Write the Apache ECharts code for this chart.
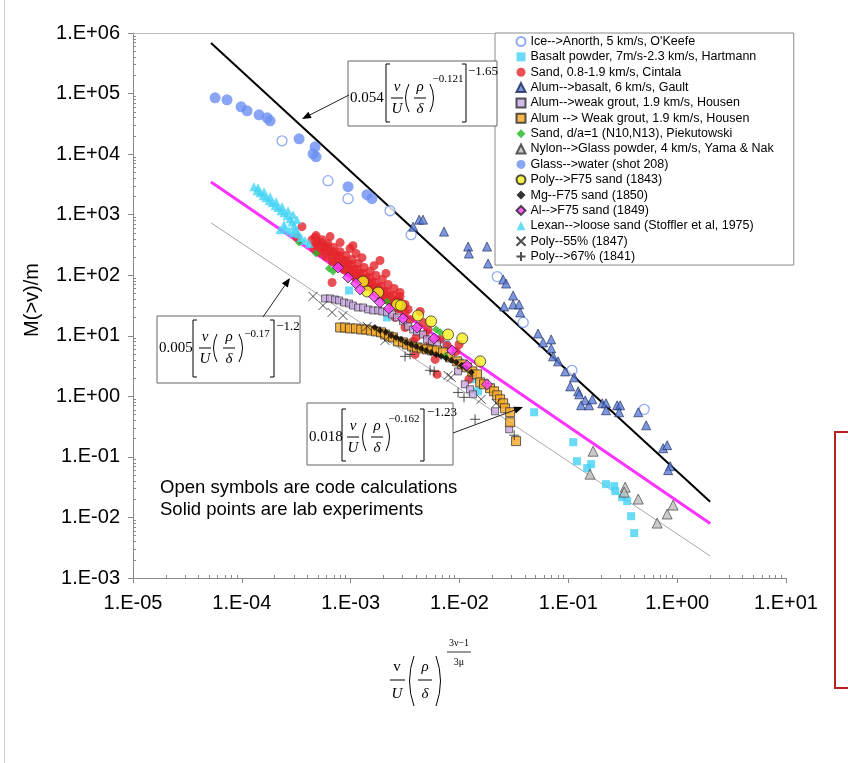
<!DOCTYPE html>
<html><head><meta charset="utf-8">
<script src="https://cdn.jsdelivr.net/npm/echarts@6/dist/echarts.min.js"></script>
<style>html,body{margin:0;padding:0;background:#fff}#c{width:848px;height:763px}</style>
</head><body><div id="c"></div>
<script>
// ---------- tick labels ----------
const xTickLabels = ['1.E-05','1.E-04','1.E-03','1.E-02','1.E-01','1.E+00','1.E+01'];
const yTickLabels = ['1.E-03','1.E-02','1.E-01','1.E+00','1.E+01','1.E+02','1.E+03','1.E+04','1.E+05','1.E+06'];

// ---------- series names ----------
const seriesNames = [
  "Ice-->Anorth, 5 km/s, O'Keefe",
  "Basalt powder, 7m/s-2.3 km/s, Hartmann",
  "Sand, 0.8-1.9 km/s, Cintala",
  "Alum-->basalt, 6 km/s, Gault",
  "Alum-->weak grout, 1.9 km/s, Housen",
  "Alum --> Weak grout, 1.9 km/s, Housen",
  "Sand, d/a=1 (N10,N13), Piekutowski",
  "Nylon-->Glass powder, 4 km/s, Yama & Nak",
  "Glass-->water (shot 208)",
  "Poly-->F75 sand (1843)",
  "Mg--F75 sand (1850)",
  "Al-->F75 sand (1849)",
  "Lexan-->loose sand (Stoffler et al, 1975)",
  "Poly--55% (1847)",
  "Poly-->67% (1841)"
];

// ---------- data [x, M(>v)/m] ----------
const iceAnorth = [[2.34e-4,1.66e4],[6.19e-4,3.64e3],[9.46e-4,1.84e3],[2.30e-3,1.16e3],[3.59e-3,468],[2.22e-2,95],[3.85e-2,16.6],[0.108,2.69],[0.498,0.61]];

const basaltPowder = [[9.66e-4,55.9],[2.16e-3,20.1],[7.54e-3,7.19],[1.01e-2,3.64],[1.31e-2,1.91],[1.48e-2,1.21],[4.85e-2,0.546],[0.111,0.175],[0.120,0.0849],[0.162,0.0759],[0.149,0.0652],[0.222,0.0355],[0.264,0.0329],[0.270,0.0272],[0.312,0.0216],[0.347,0.0186],[0.378,0.0105],[0.403,0.00552]];

const sandCintala = [
  [4.42e-4,387],[5.01e-4,333],[5.70e-4,286],[6.47e-4,245],[7.35e-4,211],[8.34e-4,175],[9.46e-4,150],[1.07e-3,124],[1.22e-3,107],[1.39e-3,88.1],[1.57e-3,75.7],[1.79e-3,62.7],[2.03e-3,53.8],[2.30e-3,44.6],[2.61e-3,38.3],[2.96e-3,31.6],[3.37e-3,27.2],
  [4.81e-4,451],[5.46e-4,387],[6.19e-4,333],[7.03e-4,286],[8.00e-4,245],[9.08e-4,211],[1.03e-3,181],[1.17e-3,156],[1.33e-3,134],[1.51e-3,115],[1.71e-3,98.9],[1.95e-3,84.9],[2.21e-3,70.2],[2.51e-3,60.3],[2.84e-3,51.8],
  [4.61e-4,275],[5.24e-4,237],[5.94e-4,203],[6.75e-4,168],[7.66e-4,144],[8.69e-4,124],[9.86e-4,107],[1.12e-3,88.1],[1.27e-3,75.7],[1.45e-3,65.0],[1.64e-3,53.8],[1.86e-3,46.2],[2.11e-3,39.7],[2.40e-3,32.9],[2.73e-3,28.2],
  [4.71e-4,418],[5.35e-4,346],[6.07e-4,297],[6.89e-4,245],[7.82e-4,211],[8.89e-4,175],[1.01e-3,150],[1.15e-3,124],[1.30e-3,107],[1.48e-3,91.6],[1.67e-3,75.7],[1.90e-3,65.0],[2.16e-3,53.8],[2.45e-3,46.2],[2.79e-3,38.3],[3.16e-3,32.9],
  [4.71e-4,308],[5.35e-4,255],[6.07e-4,219],[6.89e-4,181],[7.82e-4,156],[8.89e-4,129],[1.01e-3,111],[1.15e-3,91.6],[1.30e-3,78.7],[1.48e-3,65.0],[1.67e-3,55.9],[1.90e-3,48.1],[2.16e-3,39.7],[2.45e-3,34.1],[2.79e-3,28.2],[3.16e-3,24.3],
  [6.47e-4,434],[8.00e-4,346],[9.86e-4,275],[1.27e-3,195],[1.64e-3,144],[2.11e-3,107],
  [3.57e-4,634],[3.21e-4,418],[1.05e-3,308],[1.12e-3,228],[1.86e-3,175],[6.75e-4,75.7],[2.84e-3,44.6],[4.62e-3,16.6],[5.97e-3,4.07],[6.22e-3,2.31],[3.91e-3,4.93],[3.75e-3,8.07],[9.91e-3,7.19],[9.31e-3,5.52],[7.69e-3,6.93],[1.22e-2,1.91],[3.52e-3,18.6],[4.83e-3,10.5],[3.16e-3,13.7],[4.35e-3,25.2],[2.56e-3,20.1],[5.37e-3,7.77],[5.14e-3,12.7],[6.64e-3,8.71],[3.99e-3,9.40]
];

const alumBasalt = [[3.75e-3,634],[4.26e-3,828],[4.62e-3,828],[7.21e-3,525],[1.20e-2,297],[1.22e-2,228],[1.79e-2,297],[1.83e-2,156],[2.52e-2,84.9],[2.68e-2,72.9],[2.57e-2,30.5],[3.11e-2,46.2],[3.11e-2,32.9],[3.53e-2,32.9],[3.61e-2,24.3],[5.27e-2,10.9],[5.86e-2,7.77],[6.95e-2,8.71],[6.95e-2,6.18],[7.24e-2,4.57],[8.05e-2,3.78],[9.35e-2,2.58],[0.113,2.06],[0.104,1.46],[0.123,1.21],[0.126,1.08],[0.143,0.859],[0.131,0.711],[0.155,0.711],[0.166,0.893],[0.205,0.767],[0.222,0.767],[0.222,0.589],[0.281,0.711],[0.299,0.711],[0.293,0.546],[0.439,0.546],[0.519,0.333],[0.743,0.139],[0.809,0.156],[0.863,0.0703],[0.826,0.0604]];

const alumWeakGrout = [[5.82e-4,41.3],[6.47e-4,41.3],[7.19e-4,39.7],[7.82e-4,38.3],[8.69e-4,35.5],[9.66e-4,34.1],[1.05e-3,31.6],[1.17e-3,29.3],[1.30e-3,29.3],[1.45e-3,27.2],[1.61e-3,26.2],[1.79e-3,26.2],[1.95e-3,25.2],[2.16e-3,24.3],[2.40e-3,22.5],[2.67e-3,20.1],[3.03e-3,17.3],[3.37e-3,14.3],[3.75e-3,12.7],[4.07e-3,11.8],[4.62e-3,10.5],[5.03e-3,8.71],[5.60e-3,8.07],[6.22e-3,7.19],[9.70e-3,2.58],[1.12e-2,1.58],[1.25e-2,1.31],[1.33e-2,1.08],[2.12e-2,0.566],[2.86e-2,0.286]];

const alumWeakGroutOrange = [[8.00e-4,13.7],[8.89e-4,13.7],[9.86e-4,13.2],[1.12e-3,13.2],[1.25e-3,12.7],[1.39e-3,12.7],[1.54e-3,12.2],[1.71e-3,11.8],[1.90e-3,11.4],[2.07e-3,10.5],[2.25e-3,9.75],[2.45e-3,9.40],[2.73e-3,8.07],[3.03e-3,7.77],[3.30e-3,7.19],[3.66e-3,6.67],[4.07e-3,6.43],[4.53e-3,6.18],[5.03e-3,5.96],[5.60e-3,5.73],[6.22e-3,5.73],[7.06e-3,5.32],[8.20e-3,4.40],[9.51e-3,3.78],[1.06e-2,3.37],[1.17e-2,3.01],[1.31e-2,2.58],[1.45e-2,2.31],[1.55e-2,1.70],[1.68e-2,1.58],[1.91e-2,1.36],[2.08e-2,1.21],[2.22e-2,1.04],[2.36e-2,0.893],[2.52e-2,0.767],[2.62e-2,0.635],[2.92e-2,0.546],[2.92e-2,0.373],[3.31e-2,0.182]];

const sandPiekutowski = [[3.36e-4,346],[4.81e-4,228],[6.32e-4,129],[6.89e-4,115],[2.16e-3,36.8],[6.10e-3,12.7],[6.64e-3,11.4],[7.38e-3,4.57]];

const nylonGlass = [[0.169,0.124],[0.158,0.0519],[0.333,0.0316],[0.326,0.0262],[0.439,0.0201],[0.918,0.0160],[0.809,0.0114],[0.655,0.00807]];

const glassWater = [[5.68e-5,8.5e4],[7.31e-5,7.87e4],[9.84e-5,6.03e4],[1.117e-4,5.18e4],[1.44e-4,4.45e4],[1.71e-4,3.97e4],[1.82e-4,3.55e4],[3.36e-4,1.79e4],[4.71e-4,1.32e4],[4.51e-4,1.01e4],[4.81e-4,9.04e3],[9.46e-4,2.90e3],[1.41e-3,2.14e3],[1.57e-3,1.84e3]];

const polyF75 = [[1.30e-3,78.7],[1.42e-3,53.8],[1.79e-3,51.8],[2.67e-3,32.9],[2.90e-3,31.6],[4.16e-3,21.6],[5.48e-3,17.3],[7.85e-3,10.5],[1.06e-2,9.04],[1.55e-2,3.78]];

const mgF75 = [[1.67e-3,13.7],[1.86e-3,12.2],[2.11e-3,11.4],[2.35e-3,10.1],[2.61e-3,9.40],[2.90e-3,8.71],[3.23e-3,7.77],[3.59e-3,7.19],[3.99e-3,6.67],[4.44e-3,6.18],[4.93e-3,5.73],[5.48e-3,5.32],[6.10e-3,4.93],[6.78e-3,4.57],[7.54e-3,4.24],[8.38e-3,3.93],[9.31e-3,3.64],[1.04e-2,3.24],[1.15e-2,2.90],[1.28e-2,2.49]];

const alF75 = [[7.66e-4,134],[9.46e-4,91.6],[1.12e-3,72.9],[1.22e-3,58.1],[1.64e-3,44.6],[1.86e-3,35.5],[2.25e-3,28.2],[3.03e-3,19.3],[4.07e-3,13.7],[5.85e-3,9.04],[8.55e-3,5.73],[1.17e-2,3.24],[1.79e-2,1.58]];

const lexanSand = [[1.29e-4,2900],[1.38e-4,2490],[1.47e-4,2310],[1.57e-4,2060],[1.67e-4,1910],[1.78e-4,1700],[1.90e-4,1580],[2.02e-4,1410],[2.15e-4,1310],[2.29e-4,1160],[2.44e-4,1080],[2.60e-4,964],[2.77e-4,859],[2.89e-4,767],[3.02e-4,659],[3.15e-4,566],[3.29e-4,486],[3.50e-4,418],[3.81e-4,373],[4.15e-4,333],
  [1.41e-4,2790],[1.60e-4,2390],[1.82e-4,1980],[2.06e-4,1640],[2.34e-4,1360],[2.66e-4,1160],[2.96e-4,1000],[3.21e-4,828],
  [2.24e-4,566],[2.49e-4,588],[2.72e-4,545],[2.96e-4,505],[2.44e-4,684]];

const poly55 = [[4.51e-4,44.6],[5.57e-4,31.6],[6.75e-4,24.3],[8.51e-4,21.6],[1.42e-3,14.3],[2.07e-3,8.38],[7.85e-3,2.22],[8.38e-3,2.06],[1.58e-2,0.893],[2.17e-2,0.767]];

const poly67 = [[3.16e-3,4.57],[3.52e-3,4.93],[5.37e-3,2.69],[5.85e-3,2.58],[9.70e-3,1.16],[1.10e-2,0.964],[1.39e-2,0.418],[3.18e-2,0.228]];

// fitted power-law lines (end points)
const fitUpper  = [[5.21e-5,6.84e5],[2.01,0.0182]];
const fitMiddle = [[5.21e-5,3475],[2.01,0.00791]];
const fitLower  = [[5.21e-5,733],[2.01,0.00231]];

// ---------- styles ----------
const seriesData = [iceAnorth, basaltPowder, sandCintala, alumBasalt, alumWeakGrout, alumWeakGroutOrange, sandPiekutowski, nylonGlass, glassWater, polyF75, mgF75, alF75, lexanSand, poly55, poly67];
const XPATH = 'path://M0,0L10,10M10,0L0,10';
const PPATH = 'path://M5,0L5,10M0,5L10,5';
const styles = [
  {symbol:'circle', size:10, item:{color:'#ffffff', borderColor:'#7596f0', borderWidth:1.3}},
  {symbol:'rect', size:8, item:{color:'#45d2f4'}},
  {symbol:'circle', size:9, item:{color:'#e3242b'}},
  {symbol:'triangle', size:9, item:{color:'#5a7ed8', borderColor:'#1a2350', borderWidth:0.8}},
  {symbol:'rect', size:7, item:{color:'#c8a8e2', borderColor:'#2a2a2a', borderWidth:0.8}},
  {symbol:'rect', size:9, item:{color:'#f5a623', borderColor:'#2a2a2a', borderWidth:0.9}},
  {symbol:'diamond', size:8, item:{color:'#22b722'}},
  {symbol:'triangle', size:10, item:{color:'#bdbdbd', borderColor:'#333', borderWidth:0.8}},
  {symbol:'circle', size:11, item:{color:'#6b8ef2'}},
  {symbol:'circle', size:11, item:{color:'#f5ee1b', borderColor:'#222', borderWidth:0.9}},
  {symbol:'diamond', size:7, item:{color:'#000'}},
  {symbol:'diamond', size:11, item:{color:'#ff3cff', borderColor:'#222', borderWidth:0.9}},
  {symbol:'triangle', size:9, item:{color:'#45d4f4'}},
  {symbol:XPATH, size:9, item:{color:'none', borderColor:'#222', borderWidth:1}},
  {symbol:PPATH, size:10, item:{color:'none', borderColor:'#222', borderWidth:1}}
];

const series = [];
[[fitUpper,'#000',2],[fitMiddle,'#ff33ff',3],[fitLower,'#aaaaaa',1]].forEach((f,i)=>{
  series.push({type:'line', name:'fit'+i, data:f[0], showSymbol:false, symbol:'none', silent:true,
    lineStyle:{color:f[1], width:f[2]}, xAxisIndex:0, yAxisIndex:0, z:1, animation:false});
});
seriesNames.forEach((n,i)=>{
  series.push({type:'scatter', name:n, data:seriesData[i], symbol:styles[i].symbol, symbolSize:styles[i].size,
    itemStyle:styles[i].item, xAxisIndex:0, yAxisIndex:0, emphasis:{disabled:true}, animation:false});
});

// ---------- minor tick positions ----------
function minors(lo, hi){ const a=[]; for(let e=lo;e<hi;e++){ for(let m=2;m<=9;m++){ a.push(+(m+'e'+e)); } } return a; }
const xMinor = minors(-5,1), yMinor = minors(-3,6);

const AX = '#888888';
const labelFont = {fontFamily:'Liberation Sans', fontSize:20, color:'#000'};

// ---------- annotation graphics ----------
const SERIF = '"Liberation Serif", "Times New Roman", serif';
function T(text,x,y,size,italic,align){ return {type:'text', x:x, y:y, z:100, silent:true,
  style:{text:text, font:(italic?'italic ':'')+size+'px '+SERIF, fill:'#000', align:align||'center', verticalAlign:'middle'}}; }
function L(x1,y1,x2,y2,c,w){ return {type:'line', z:100, silent:true, shape:{x1,y1,x2,y2}, style:{stroke:c||'#000', lineWidth:w||1}}; }
function P(pts){ return {type:'polyline', z:100, silent:true, shape:{points:pts}, style:{stroke:'#000', lineWidth:1, fill:null}}; }
function paren(x1,y1,cx,y2){ return {type:'bezierCurve', z:100, silent:true, shape:{x1:x1,y1:y1,x2:x1,y2:y2,cpx1:cx,cpy1:(y1+y2)/2}, style:{stroke:'#000', lineWidth:1, fill:null}}; }
function arrow(x1,y1,x2,y2){ const dx=x2-x1, dy=y2-y1, l=Math.hypot(dx,dy), ux=dx/l, uy=dy/l, hl=9, hw=3.6;
  const bx=x2-ux*hl, by=y2-uy*hl;
  return [L(x1,y1,bx,by,'#222',1), {type:'polygon', z:100, silent:true, shape:{points:[[x2,y2],[bx-uy*hw,by+ux*hw],[bx+uy*hw,by-ux*hw]]}, style:{fill:'#000'}}]; }
function box(x,y,w,h){ return {type:'rect', z:99, silent:true, shape:{x,y,width:w,height:h}, style:{fill:'#fff', stroke:'#666', lineWidth:1}}; }

function formula(o){
  const g=[];
  g.push(box(o.bx,o.by,o.bw,o.bh));
  g.push(T(o.coef,o.cx,o.my,15,false,'left'));
  g.push(P([[o.l+4,o.top],[o.l,o.top],[o.l,o.bot],[o.l+4,o.bot]]));
  g.push(T('ν',o.f1,o.my-11,15,true)); g.push(L(o.f1-6,o.my,o.f1+6,o.my)); g.push(T('U',o.f1,o.my+11,15,true));
  g.push(paren(o.p1+2,o.my-14,o.p1-5,o.my+14));
  g.push(T('ρ',o.f2,o.my-11,15,true)); g.push(L(o.f2-6,o.my,o.f2+6,o.my)); g.push(T('δ',o.f2,o.my+11,15,true));
  g.push(paren(o.p2-2,o.my-14,o.p2+5,o.my+14));
  g.push(T(o.e1,o.e1x,o.e1y,11,false));
  g.push(P([[o.r-4,o.top],[o.r,o.top],[o.r,o.bot],[o.r-4,o.bot]]));
  g.push(T(o.e2,o.e2x,o.e2y,13,false));
  return g;
}

let graphics = [];
graphics = graphics.concat(formula({bx:348,by:61,bw:149,bh:65, coef:'0.054', cx:350, my:98, l:386, top:64, bot:122, f1:397, p1:407, f2:420, p2:432, e1:'−0.121', e1x:448, e1y:79, r:466, e2:'−1.65', e2x:483, e2y:72}));
graphics = graphics.concat(formula({bx:157,by:316,bw:143,bh:67, coef:'0.005', cx:159, my:348, l:193, top:320, bot:377, f1:205, p1:215, f2:229, p2:241, e1:'−0.17', e1x:257, e1y:334, r:274, e2:'−1.2', e2x:288, e2y:327}));
graphics = graphics.concat(formula({bx:307,by:403,bw:146,bh:62, coef:'0.018', cx:309, my:437, l:342, top:409, bot:461, f1:353, p1:364, f2:377, p2:388, e1:'−0.162', e1x:404, e1y:419, r:424, e2:'−1.23', e2x:442, e2y:413}));
graphics = graphics.concat(arrow(349,95,302,119), arrow(263,317,290,278), arrow(453,433,523,407));

graphics.push({type:'text', x:160, y:488, z:100, style:{text:'Open symbols are code calculations', font:'18.5px "Liberation Sans", Arial, sans-serif', fill:'#000', align:'left', verticalAlign:'middle'}});
graphics.push({type:'text', x:160, y:510, z:100, style:{text:'Solid points are lab experiments', font:'18.5px "Liberation Sans", Arial, sans-serif', fill:'#000', align:'left', verticalAlign:'middle'}});
graphics.push({type:'text', x:32, y:300, rotation:Math.PI/2, z:100, style:{text:'M(>v)/m', font:'20px "Liberation Sans", Arial, sans-serif', fill:'#000', align:'center', verticalAlign:'middle'}});
graphics.push(T('v',397,667,15,false), L(390,680,405,680), T('U',397,694,15,true));
graphics.push(paren(414,656,405,706), T('ρ',425,667,15,true), L(418,680,432,680), T('δ',425,694,15,true), paren(436,656,445,706));
graphics.push(T('3ν−1',459,643,10,false), L(447,652,471,652,'#000',0.8), T('3μ',459,662,10,false));
graphics.push(L(133,33.5,495,33.5,'#bbbbbb',1));
graphics.push(L(4.5,0,4.5,763,'#d0d0d0',1));
graphics.push({type:'rect', z:100, shape:{x:835,y:432,width:40,height:256}, style:{fill:null, stroke:'#b5221f', lineWidth:2}});

const chart = echarts.init(document.getElementById('c'), null, {renderer:'canvas'});
chart.setOption({
  animation:false,
  backgroundColor:'#fff',
  grid:{left:133, top:33, right:62, bottom:185, containLabel:false, outerBoundsMode:'none'},
  legend:{
    data:seriesNames, orient:'vertical', left:495, top:33, padding:[1,20,1,19],
    itemGap:0.36, itemWidth:9, itemHeight:9, selectedMode:false,
    textStyle:{fontFamily:'Liberation Sans', fontSize:12.5, color:'#000', lineHeight:15},
    borderColor:'#8a8a8a', borderWidth:1, backgroundColor:'#fff', z:50
  },
  xAxis:[
    {type:'log', logBase:10, min:1e-5, max:10, position:'bottom',
      axisLine:{onZero:false, lineStyle:{color:AX, width:1}},
      axisTick:{show:true, inside:false, length:5, lineStyle:{color:AX}},
      axisLabel:{...labelFont, margin:15, showMinLabel:true, showMaxLabel:true, hideOverlap:false,
        formatter:(v)=>xTickLabels[Math.round(Math.log10(v))+5]},
      splitLine:{show:false}},
    {type:'log', logBase:10, min:1e-5, max:10, position:'bottom', offset:0,
      axisLine:{show:false, onZero:false},
      axisTick:{show:true, inside:true, length:3, customValues:xMinor, lineStyle:{color:AX}},
      axisLabel:{show:false}, splitLine:{show:false}}
  ],
  yAxis:[
    {type:'log', logBase:10, min:1e-3, max:1e6, position:'left',
      axisLine:{show:true, onZero:false, lineStyle:{color:AX, width:1}},
      axisTick:{show:true, inside:false, length:5, lineStyle:{color:AX}},
      axisLabel:{...labelFont, margin:13, showMinLabel:true, showMaxLabel:true, hideOverlap:false,
        formatter:(v)=>yTickLabels[Math.round(Math.log10(v))+3]},
      splitLine:{show:false}},
    {type:'log', logBase:10, min:1e-3, max:1e6, position:'left', offset:0,
      axisLine:{show:false, onZero:false},
      axisTick:{show:true, inside:true, length:3, customValues:yMinor, lineStyle:{color:AX}},
      axisLabel:{show:false}, splitLine:{show:false}}
  ],
  series:series,
  graphic:{elements:graphics}
});
</script></body></html>
